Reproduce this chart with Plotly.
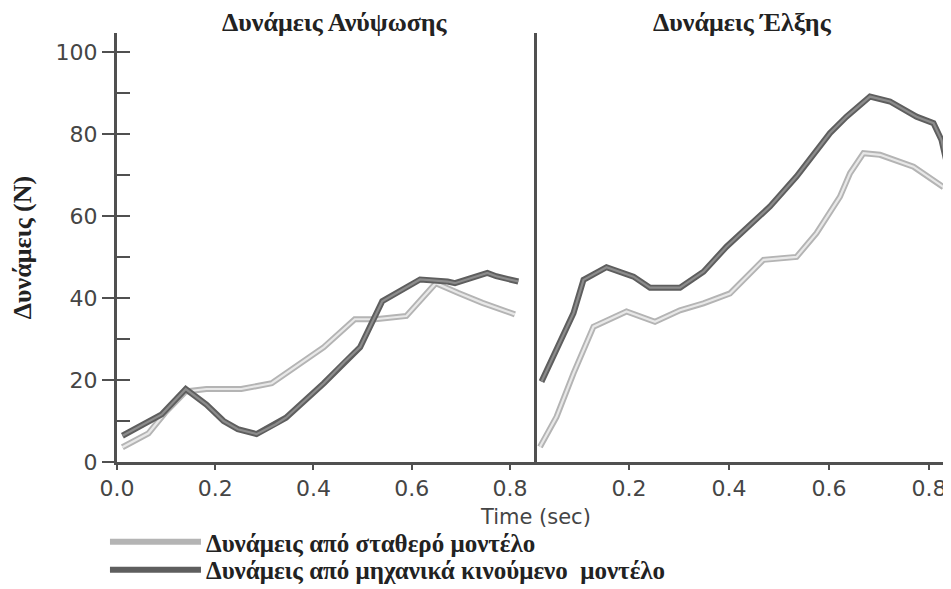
import plotly.graph_objects as go

# time (sec) and force (N)
t_lift_fixed = [0.011, 0.064, 0.098, 0.14, 0.182, 0.253, 0.315, 0.379, 0.421, 0.484, 0.526, 0.589, 0.649, 0.695, 0.744, 0.81]
f_lift_fixed = [3.6, 7.0, 12.0, 17.2, 17.8, 17.8, 19.2, 24.4, 28.0, 34.8, 34.8, 35.6, 43.6, 41.2, 38.8, 36.0]

t_lift_moving = [0.011, 0.091, 0.14, 0.182, 0.217, 0.246, 0.284, 0.323, 0.344, 0.421, 0.463, 0.495, 0.54, 0.617, 0.673, 0.688, 0.754, 0.772, 0.817]
f_lift_moving = [6.4, 11.6, 17.8, 14.0, 10.0, 8.0, 6.8, 9.2, 10.8, 19.2, 24.4, 28.0, 39.2, 44.5, 44.0, 43.6, 46.1, 45.3, 44.0]

t_drag_fixed = [0.022, 0.055, 0.089, 0.129, 0.195, 0.252, 0.302, 0.349, 0.402, 0.469, 0.535, 0.575, 0.622, 0.642, 0.669, 0.702, 0.769, 0.829]
f_drag_fixed = [3.7, 11.0, 21.6, 33.0, 36.7, 34.2, 37.0, 38.7, 41.1, 49.3, 50.0, 55.8, 64.7, 70.4, 75.3, 74.9, 72.0, 67.0]

t_drag_moving = [0.025, 0.055, 0.089, 0.109, 0.155, 0.209, 0.242, 0.302, 0.349, 0.395, 0.482, 0.535, 0.602, 0.635, 0.682, 0.722, 0.775, 0.809, 0.825, 0.835]
f_drag_moving = [19.6, 27.3, 36.3, 44.4, 47.5, 45.2, 42.5, 42.5, 46.4, 52.5, 62.3, 69.6, 80.2, 84.2, 89.1, 87.9, 84.2, 82.6, 78.5, 73.2]

panel_titles = ["Δυνάμεις Ανύψωσης", "Δυνάμεις Έλξης"]
name_fixed = "Δυνάμεις από σταθερό μοντέλο"
name_moving = "Δυνάμεις από μηχανικά κινούμενο  μοντέλο"

serif = "Liberation Serif"
sans = "DejaVu Sans"
axis_col = "#505050"
txt_col = "#454545"

fig = go.Figure()

# each curve: wide outline + lighter core (scanned "hollow" stroke look)
# two single-entry legends so the rows can sit as close as in the scan
series = [
    (t_lift_fixed, f_lift_fixed, "x", "y", "fixed", "#b4b4b4", "#e8e8e8", True, name_fixed, "legend"),
    (t_lift_moving, f_lift_moving, "x", "y", "moving", "#5e5e5e", "#8c8c8c", True, name_moving, "legend2"),
    (t_drag_fixed, f_drag_fixed, "x2", "y2", "fixed", "#b4b4b4", "#e8e8e8", False, name_fixed, "legend"),
    (t_drag_moving, f_drag_moving, "x2", "y2", "moving", "#5e5e5e", "#8c8c8c", False, name_moving, "legend2"),
]
for tx, fy, xa, ya, grp, c_out, c_in, leg, nm, lg in series:
    fig.add_trace(go.Scatter(x=tx, y=fy, xaxis=xa, yaxis=ya, mode="lines", name=nm,
                             legendgroup=grp, showlegend=leg, legend=lg,
                             line=dict(color=c_out, width=6)))
    fig.add_trace(go.Scatter(x=tx, y=fy, xaxis=xa, yaxis=ya, mode="lines", name=nm,
                             legendgroup=grp, showlegend=False, legend=lg, hoverinfo="skip",
                             line=dict(color=c_in, width=2.2)))

split = 420 / 830
yrange = [0, 104.6]
tickfont = dict(family=sans, size=22, color=txt_col)
legfont = dict(family=serif, size=25, color="#222", weight="bold")

# page body has an 8px margin, so the figure is sized to the visible area
fig.update_layout(
    width=943, height=581,
    margin=dict(l=109, r=4, t=25, b=127, autoexpand=False),
    paper_bgcolor="white", plot_bgcolor="white",
    xaxis=dict(domain=[0, split], range=[0, 0.855], tickvals=[0, 0.2, 0.4, 0.6, 0.8],
               ticktext=["0.0", "0.2", "0.4", "0.6", "0.8"], automargin=False,
               showgrid=False, zeroline=False, showline=True, linecolor=axis_col, linewidth=2.5,
               ticks="outside", ticklen=5, tickwidth=1.5, tickcolor=axis_col, tickfont=tickfont),
    xaxis2=dict(domain=[split, 1], range=[0.016, 0.836], tickvals=[0.2, 0.4, 0.6, 0.8],
                ticktext=["0.2", "0.4", "0.6", "0.8"], automargin=False,
                showgrid=False, zeroline=False, showline=True, linecolor=axis_col, linewidth=2.5,
                ticks="outside", ticklen=5, tickwidth=1.5, tickcolor=axis_col, tickfont=tickfont),
    yaxis=dict(range=yrange, tickvals=[0, 20, 40, 60, 80, 100], showgrid=False, zeroline=False,
               showline=True, linecolor=axis_col, linewidth=3, anchor="x", automargin=False,
               ticks="outside", ticklen=12, tickwidth=1.5, tickcolor=axis_col, tickfont=tickfont,
               title=dict(text="<b>Δυνάμεις (N)</b>", standoff=19,
                          font=dict(family=serif, size=26, color="#222"))),
    # inner half of the crossing ticks plus the minor ticks
    yaxis3=dict(range=yrange, overlaying="y", anchor="x", side="left", dtick=10, automargin=False,
                showgrid=False, zeroline=False, showline=False, showticklabels=False,
                ticks="inside", ticklen=13, tickwidth=1.5, tickcolor=axis_col),
    yaxis2=dict(range=yrange, anchor="x2", showgrid=False, zeroline=False, automargin=False,
                showline=True, linecolor=axis_col, linewidth=3, showticklabels=False, ticks=""),
    legend=dict(x=-0.0145, xanchor="left", y=-0.1865, yanchor="middle",
                itemwidth=91, bgcolor="rgba(0,0,0,0)", font=legfont),
    legend2=dict(x=-0.0145, xanchor="left", y=-0.2517, yanchor="middle",
                 itemwidth=91, bgcolor="rgba(0,0,0,0)", font=legfont),
    showlegend=True,
)

# dummy trace so yaxis3 gets drawn
fig.add_trace(go.Scatter(x=[None], y=[None], xaxis="x", yaxis="y3", showlegend=False, hoverinfo="skip"))

title_x = [0.263, (split + 1) / 2]
for ttl, tx in zip(panel_titles, title_x):
    fig.add_annotation(text="<b>" + ttl + "</b>", xref="paper", yref="paper",
                       x=tx, y=1.024, xanchor="center", yanchor="middle",
                       showarrow=False, font=dict(family=serif, size=26, color="#222"))

fig.add_annotation(text="Time (sec)", xref="paper", yref="paper", x=0.504, y=-0.128,
                   xanchor="center", yanchor="middle",
                   showarrow=False, font=dict(family=sans, size=21, color=txt_col))

fig.write_html("out.html")
